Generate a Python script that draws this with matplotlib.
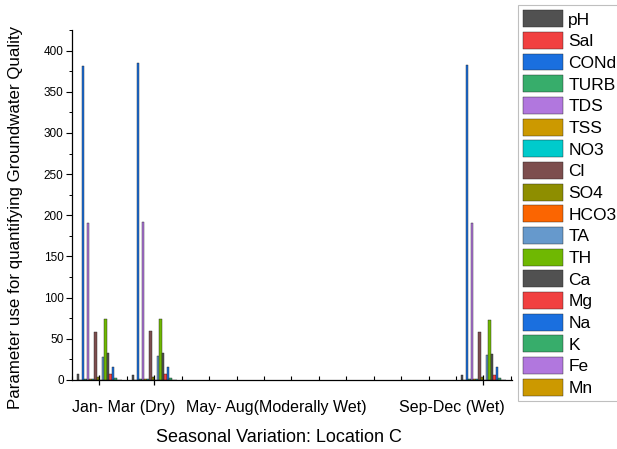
import matplotlib.pyplot as plt
import numpy as np
from matplotlib.ticker import MultipleLocator

plt.rcParams["font.family"] = ["Liberation Sans", "DejaVu Sans"]

PARAMS = ["pH", "Sal", "CONd", "TURB", "TDS", "TSS", "NO3", "Cl", "SO4",
          "HCO3", "TA", "TH", "Ca", "Mg", "Na", "K", "Fe", "Mn"]
COLORS = ["#515151", "#F14040", "#1A6FDF", "#37AD6B", "#B177DE", "#CC9900",
          "#00CBCC", "#7D4E4E", "#8E8E00", "#FB6501", "#6699CC", "#6FB802",
          "#515151", "#F14040", "#1A6FDF", "#37AD6B", "#B177DE", "#CC9900"]

SEASONS = ["Jan- Mar (Dry)", "May- Aug(Moderally Wet)", "Sep-Dec (Wet)"]
# x positions of the bar groups on the numeric axis
GROUP_X = [1, 2, 8]
SEASON_LABEL_X = [1.45, 4.23, 7.43]

# values per group, in the order of PARAMS
GROUP_1 = [7.0, 0.4, 381, 1.5, 190.5, 1.0, 0.8, 58.7, 4.0, 0.5,
           28.3, 73.8, 32.4, 6.9, 15.4, 2.9, 0.4, 0.2]
GROUP_2 = [6.5, 0.4, 385, 1.5, 192, 1.0, 0.8, 60, 4.0, 0.5,
           29, 74.5, 33, 7.0, 15.8, 3.0, 0.4, 0.2]
GROUP_3 = [5.5, 0.4, 383, 1.5, 191, 1.0, 0.8, 58, 4.0, 0.5,
           30, 73, 32, 6.0, 15.4, 3.0, 0.4, 0.2]


def main():
    fig = plt.figure(figsize=(6.17, 4.49), dpi=100)
    ax = fig.add_axes([72 / 617, 69 / 449, 440 / 617, 350 / 449])

    values = np.array([GROUP_1, GROUP_2, GROUP_3])
    n = len(PARAMS)
    w = 0.0456
    xs = np.array(GROUP_X, dtype=float)
    for i, (name, color) in enumerate(zip(PARAMS, COLORS)):
        ax.bar(xs + (i - (n - 1) / 2) * w, values[:, i], width=w,
               color=color, edgecolor="#222222", linewidth=0.3, label=name)

    ax.set_xlim(0.5, 8.52)
    ax.set_ylim(0, 425)

    for side in ["top", "right"]:
        ax.spines[side].set_visible(False)
    ax.spines["left"].set_linewidth(0.9)
    ax.spines["bottom"].set_linewidth(0.9)

    ax.yaxis.set_major_locator(MultipleLocator(50))
    ax.yaxis.set_minor_locator(MultipleLocator(25))
    ax.tick_params(axis="y", which="major", direction="out", length=4,
                   width=0.8, labelsize=8.5, pad=2)
    ax.tick_params(axis="y", which="minor", direction="out", length=2.5, width=0.7)

    ax.set_xticks(GROUP_X)
    ax.set_xticklabels([])
    ax.xaxis.set_minor_locator(MultipleLocator(0.5))
    ax.tick_params(axis="x", which="major", direction="inout", length=7, width=0.9)
    ax.tick_params(axis="x", which="minor", direction="in", length=3, width=0.8)

    for label, x in zip(SEASONS, SEASON_LABEL_X):
        ax.text(x, -33, label, ha="center", va="center", fontsize=11.5)

    ax.set_ylabel("Parameter use for quantifying Groundwater Quality", fontsize=12.2)
    ax.yaxis.set_label_coords(-0.111, 0.464)
    fig.text(279 / 617, 1 - 437 / 449, "Seasonal Variation: Location C",
             ha="center", va="center", fontsize=13)

    # legend box runs past the right edge of the figure, as in the source
    leg = fig.legend(loc="upper left", mode="expand",
                     bbox_to_anchor=(518 / 617, 1 - 5 / 449, 0.2, 0),
                     fontsize=12.5, frameon=True, fancybox=False,
                     handlelength=2.3, handleheight=1.12, labelspacing=0.25,
                     handletextpad=0.3, borderpad=0.3, borderaxespad=0)
    leg.get_frame().set_edgecolor("#b0b0b0")
    leg.get_frame().set_linewidth(0.8)

    fig.savefig("out.png", dpi=100)
    plt.close(fig)


if __name__ == "__main__":
    main()
